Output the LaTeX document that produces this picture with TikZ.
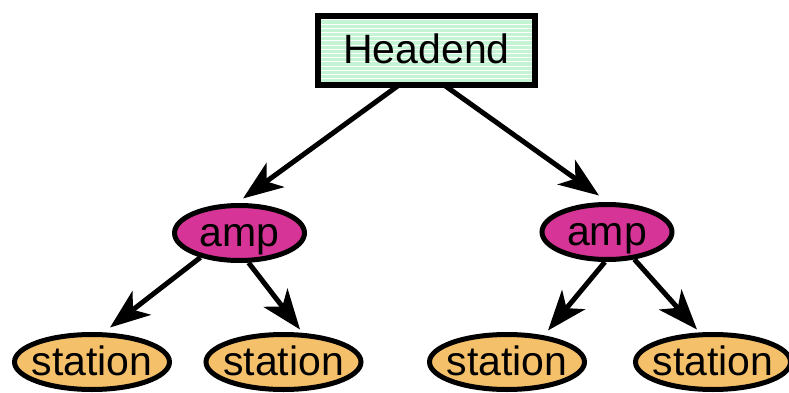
\documentclass[tikz,border=0pt]{standalone}
\usepackage{fontspec}
\setmainfont{Liberation Sans}
\usetikzlibrary{arrows.meta,shapes.geometric}
\definecolor{mint}{RGB}{196,244,212}
\definecolor{ampfill}{RGB}{214,52,150}
\definecolor{stationfill}{RGB}{245,192,106}
\tikzset{
  label text/.style={inner sep=0pt, text height=27pt, text depth=0pt,
    font=\fontsize{41}{48}\selectfont},
  headbox/.style={label text, draw, line width=6pt, rectangle, minimum width=217pt,
    minimum height=69pt, fill=mint,
    path picture={
      \foreach \i in {0,...,19}
        \draw[white, line width=1pt]
          ([yshift=\i*4.2pt+2pt]path picture bounding box.south west) --
          ([yshift=\i*4.2pt+2pt]path picture bounding box.south east);
    }},
  ampnode/.style={label text, draw, line width=5pt, ellipse, minimum width=130pt,
    minimum height=55pt, fill=ampfill},
  stationnode/.style={label text, draw, line width=5pt, ellipse, minimum width=155pt,
    minimum height=55pt, fill=stationfill},
  link/.style={line width=5pt, -{Stealth[length=40pt,width=30pt,inset=11pt]}}
}
\begin{document}
\begin{tikzpicture}[x=1pt,y=-1pt]
  \useasboundingbox (0,0) rectangle (789,393);

  % links from the headend pass under its frame
  \coordinate (hdL) at (399,85);
  \coordinate (hdR) at (444,85);

  % amplifiers and stations
  \node[ampnode] (ampL) at (239.5,233) {\makebox[0pt]{amp}};
  \node[ampnode] (ampR) at (607,232) {\makebox[0pt]{amp}};
  \node[stationnode] (stA) at (92,362) {\makebox[0pt]{station}};
  \node[stationnode] (stB) at (283.5,362) {\makebox[0pt]{station}};
  \node[stationnode] (stC) at (507,362) {\makebox[0pt]{station}};
  \node[stationnode] (stD) at (713,362) {\makebox[0pt]{station}};

  % headend feeds the two amplifiers
  \draw[link] (hdL) -- ([xshift=3.5pt,yshift=4.5pt]ampL.north);
  \draw[link] (hdR) -- ([xshift=-8pt,yshift=6.5pt]ampR.north);

  % headend box on top of the link starts
  \node[headbox] (hd) at (426.5,50.5) {\makebox[0pt]{Headend}};

  % amplifiers feed the stations
  \draw[link] (ampL.-148) -- ([xshift=18pt,yshift=4.5pt]stA.north);
  \draw[link] (ampL.-73) -- ([xshift=16.5pt,yshift=2.5pt]stB.north);
  \draw[link] (ampR.-94) -- ([xshift=41pt,yshift=1.5pt]stC.north);
  \draw[link] (ampR.-45) -- ([xshift=-16pt,yshift=2.5pt]stD.north);
\end{tikzpicture}
\end{document}
